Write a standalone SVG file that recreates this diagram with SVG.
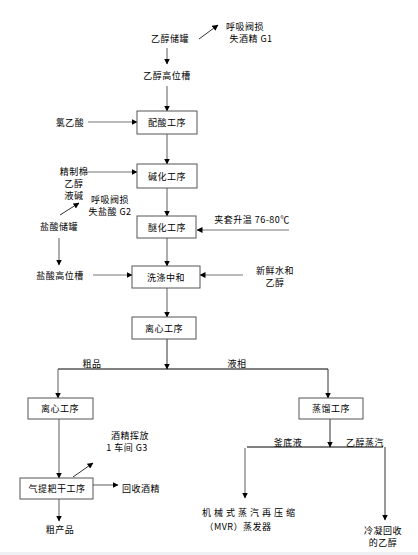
<svg xmlns="http://www.w3.org/2000/svg" width="418" height="555" viewBox="0 0 418 555">
<defs>
<marker id="ah" markerWidth="6" markerHeight="6" refX="5.5" refY="3" orient="auto" markerUnits="userSpaceOnUse">
<path d="M0,0 L6,3 L0,6 Z" fill="#000"/>
</marker>
<style>
text{font-family:"Noto Sans CJK SC","Liberation Sans",sans-serif;font-size:9px;fill:#000;text-anchor:middle;dominant-baseline:central;letter-spacing:0.5px}
.box{fill:#fff;stroke:#555;stroke-width:1}
.ln{stroke:#777;stroke-width:1.2;fill:none}
.ar{stroke:#777;stroke-width:1.2;fill:none;marker-end:url(#ah)}
.blk{stroke:#000;stroke-width:1;fill:none}
.dk{stroke:#333;stroke-width:1;fill:none;marker-end:url(#ah)}
</style>
</defs>
<rect width="418" height="555" fill="#fff"/>
<rect x="0" y="552" width="418" height="3" fill="#eef0f4"/>
<g id="connectors">
<line class="dk" x1="199" y1="39" x2="218" y2="25"/>
<line class="ar" x1="167" y1="48" x2="167" y2="64"/>
<line class="ar" x1="167" y1="86" x2="167" y2="111"/>
<line class="ar" x1="88" y1="122" x2="137" y2="122"/>
<line class="ar" x1="167" y1="134" x2="167" y2="164"/>
<line class="ar" x1="85" y1="172" x2="137" y2="172"/>
<line class="ar" x1="167" y1="188" x2="167" y2="216"/>
<line class="dk" x1="60" y1="215" x2="79" y2="203"/>
<line class="ar" x1="289" y1="230" x2="197" y2="230"/>
<line class="ar" x1="59" y1="238" x2="59" y2="265"/>
<line class="ar" x1="167" y1="238" x2="167" y2="266"/>
<line class="ar" x1="93" y1="275" x2="132" y2="275"/>
<line class="ar" x1="243" y1="275" x2="200" y2="275"/>
<line class="ar" x1="167" y1="288" x2="167" y2="317"/>
<line class="dk" x1="167" y1="339" x2="167" y2="369"/>
<line class="blk" x1="58" y1="369" x2="328" y2="369"/>
<line class="ar" x1="58" y1="369" x2="58" y2="398"/>
<line class="dk" x1="328" y1="369" x2="328" y2="398"/>
<line class="dk" x1="330" y1="419" x2="330" y2="447"/>
<line class="blk" x1="247" y1="447" x2="383" y2="447"/>
<line class="ar" x1="245" y1="448" x2="245" y2="498"/>
<line class="dk" x1="385" y1="447" x2="385" y2="520"/>
<line class="ar" x1="59" y1="419" x2="59" y2="478"/>
<line class="dk" x1="73" y1="477" x2="93" y2="463"/>
<line class="ar" x1="93" y1="485" x2="118" y2="485"/>
<line class="ar" x1="59" y1="499" x2="59" y2="521"/>
</g>
<g id="n_ethanol_tank"><text x="170" y="38">乙醇储罐</text></g>
<g id="n_g1"><text x="245" y="26">呼吸阀损</text><text x="251" y="38">失酒精 G1</text></g>
<g id="n_ethanol_high"><text x="167" y="75">乙醇高位槽</text></g>
<g id="n_chloroacetic"><text x="70" y="122">氯乙酸</text></g>
<g id="n_peisuan"><rect class="box" x="137" y="111" width="60" height="23"/><text x="167" y="122.5">配酸工序</text></g>
<g id="n_raw"><text x="74" y="171">精制棉</text><text x="74" y="183">乙醇</text><text x="74" y="195">液碱</text></g>
<g id="n_jianhua"><rect class="box" x="137" y="164" width="60" height="24"/><text x="167" y="176">碱化工序</text></g>
<g id="n_g2"><text x="110" y="199">呼吸阀损</text><text x="110" y="211">失盐酸 G2</text></g>
<g id="n_hcl_tank"><text x="59" y="226">盐酸储罐</text></g>
<g id="n_mihua"><rect class="box" x="137" y="216" width="59" height="22"/><text x="167" y="227">醚化工序</text></g>
<g id="n_heat"><text x="252" y="219">夹套升温  76-80℃</text></g>
<g id="n_hcl_high"><text x="60" y="275">盐酸高位槽</text></g>
<g id="n_wash"><rect class="box" x="132" y="266" width="68" height="22"/><text x="166" y="277">洗涤中和</text></g>
<g id="n_water"><text x="275" y="270">新鲜水和</text><text x="275" y="282">乙醇</text></g>
<g id="n_lixin1"><rect class="box" x="132" y="317" width="64" height="22"/><text x="164" y="328">离心工序</text></g>
<g id="n_labels1"><text x="92" y="363">粗品</text><text x="237" y="363">液相</text></g>
<g id="n_lixin2"><rect class="box" x="28" y="398" width="65" height="21"/><text x="60" y="408.5">离心工序</text></g>
<g id="n_zhengliu"><rect class="box" x="299" y="398" width="64" height="21"/><text x="331" y="408.5">蒸馏工序</text></g>
<g id="n_labels2"><text x="288" y="442">釜底液</text><text x="365" y="442">乙醇蒸汽</text></g>
<g id="n_g3"><text x="130" y="435">酒精挥放</text><text x="127" y="447">1  车间 G3</text></g>
<g id="n_qiti"><rect class="box" x="20" y="478" width="73" height="21"/><text x="57" y="488.5">气提耙干工序</text></g>
<g id="n_recover"><text x="141" y="488">回收酒精</text></g>
<g id="n_crude"><text x="60" y="529">粗产品</text></g>
<g id="n_mvr"><text x="250" y="512" style="letter-spacing:3px">机械式蒸汽再压缩</text><text x="238" y="526">（MVR）蒸发器</text></g>
<g id="n_cond"><text x="383" y="530">冷凝回收</text><text x="383" y="542">的乙醇</text></g>
</svg>
